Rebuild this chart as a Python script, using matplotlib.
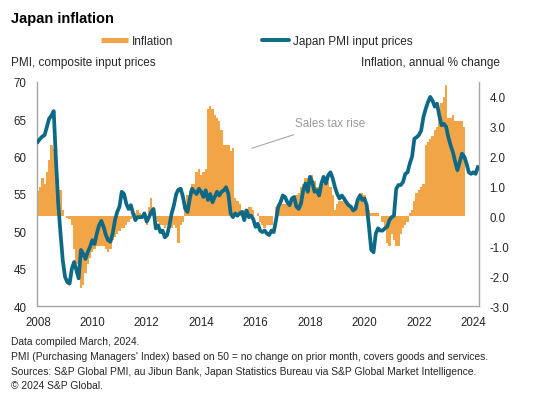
import matplotlib
matplotlib.use('Agg')
import matplotlib.pyplot as plt
import numpy as np
import pandas as pd
from matplotlib.lines import Line2D

plt.rcParams['font.family'] = ['Liberation Sans', 'DejaVu Sans']
plt.rcParams['axes.unicode_minus'] = False

orange = '#F2A546'
blue = '#0E6986'
spine_grey = '#A6A6A6'
text_col = '#262626'

# Japan PMI input prices (monthly, Jan 2008 - Mar 2024)
pmi = [
    62.0, 62.4, 62.7, 62.9, 64.0, 65.1, 65.5, 66.1, 59.5, 53.7, 49.7, 46.1,  # 2008
    43.9, 43.2, 43.0, 45.0, 45.9, 44.8, 43.7, 47.5, 47.0, 46.3, 47.2, 47.9,  # 2009
    48.8, 48.3, 49.7, 50.8, 51.4, 50.6, 49.5, 48.8, 48.6, 49.7, 51.5, 52.6,  # 2010
    53.3, 55.3, 55.0, 53.7, 53.0, 53.5, 52.4, 51.5, 51.9, 51.9, 51.9, 52.4,  # 2011
    51.3, 51.9, 52.6, 53.0, 50.4, 50.8, 49.9, 50.1, 49.2, 49.5, 50.8, 52.4,  # 2012
    53.5, 55.0, 55.6, 55.7, 54.6, 53.0, 52.6, 54.4, 55.7, 55.3, 55.0, 55.7,  # 2013
    55.3, 54.6, 55.5, 54.2, 55.0, 53.9, 54.6, 55.3, 54.8, 55.3, 55.5, 55.9,  # 2014
    55.0, 52.4, 51.9, 52.4, 52.1, 52.4, 52.6, 51.5, 52.8, 51.9, 52.1, 51.6,  # 2015
    50.6, 51.0, 50.1, 49.9, 50.1, 49.7, 49.5, 50.1, 49.9, 51.5, 53.3, 53.9,  # 2016
    54.8, 54.6, 53.9, 53.5, 54.4, 54.6, 53.3, 53.0, 53.7, 55.5, 56.4, 55.3,  # 2017
    57.3, 56.6, 55.3, 55.5, 54.8, 56.4, 57.3, 56.4, 57.5, 57.9, 57.1, 55.9,  # 2018
    55.0, 54.4, 54.8, 54.4, 53.9, 53.5, 53.3, 52.8, 53.0, 54.2, 54.8, 54.2,  # 2019
    54.4, 53.5, 50.6, 47.5, 47.2, 49.7, 50.4, 50.1, 50.1, 50.4, 50.6, 51.5,  # 2020
    51.9, 52.1, 55.7, 56.2, 56.2, 56.6, 57.7, 57.9, 59.1, 60.0, 62.4, 62.6,  # 2021
    62.9, 63.5, 65.3, 66.4, 67.3, 68.0, 67.5, 66.7, 67.1, 65.5, 64.2, 64.4,  # 2022
    64.0, 62.6, 61.5, 60.6, 59.3, 58.2, 59.3, 60.4, 60.0, 59.1, 57.9, 57.7,  # 2023
    57.9, 57.7, 58.6,  # 2024
]

# Inflation, annual % change (monthly, Jan 2008 onwards)
inflation = [
    0.85, 1.0, 1.3, 1.1, 1.5, 1.9, 2.4, 2.25, 1.85, 1.3, 0.9, 0.2,  # 2008
    0.0, -0.05, -0.1, -0.3, -1.1, -1.6, -2.0, -2.4, -2.3, -1.9, -1.6, -1.4,  # 2009
    -1.2, -1.1, -1.0, -1.0, -1.0, -1.0, -1.1, -1.2, -1.1, -0.8, -0.7, -0.6,  # 2010
    -0.5, -0.4, -0.4, -0.3, -0.2, -0.1, 0.0, 0.1, 0.2, 0.1, -0.1, 0.0,  # 2011
    -0.3, 0.3, 0.6, 0.2, -0.1, -0.2, -0.3, -0.3, -0.4, -0.3, -0.4, -0.4,  # 2012
    -0.3, -0.4, -0.9, -0.3, -0.2, 0.2, 0.7, 0.9, 1.1, 1.1, 1.5, 1.6,  # 2013
    1.4, 1.5, 1.6, 3.6, 3.7, 3.6, 3.4, 3.3, 3.2, 2.9, 2.4, 2.4,  # 2014
    2.4, 2.2, 2.3, 0.6, 0.5, 0.4, 0.2, 0.2, 0.0, 0.3, 0.3, 0.2,  # 2015
    0.0, 0.1, -0.2, -0.3, -0.4, -0.3, -0.3, -0.3, 0.0, 0.3, 0.4, 0.4,  # 2016
    0.4, 0.4, 0.4, 0.5, 0.5, 0.6, 0.7, 0.8, 1.0, 1.1, 1.3, 1.3,  # 2017
    1.2, 1.4, 1.2, 1.0, 1.0, 1.0, 1.1, 1.2, 1.2, 1.0, 0.7, 0.2,  # 2018
    0.4, 0.5, 0.5, 0.5, 0.5, 0.4, 0.3, 0.2, 0.2, 0.5, 0.8, 0.8,  # 2019
    0.7, 0.3, 0.2, 0.1, 0.1, 0.1, 0.1, 0.0, -0.2, -0.4, -0.9, -1.0,  # 2020
    -0.6, -0.8, -1.0, -1.0, -0.6, -0.4, -0.3, -0.2, 0.1, 0.2, 0.5, 0.8,  # 2021
    0.9, 1.0, 1.1, 2.4, 2.5, 2.6, 2.7, 2.9, 3.0, 3.6, 3.8, 4.0,  # 2022
    4.4, 3.3, 3.3, 3.4, 3.2, 3.2, 3.2, 3.2, 3.0, 0.02, 0.02, 0.02,  # 2023
    0.02,  # 2024
]

year_ticks = list(range(2008, 2025, 2))
pmi_ticks = [40, 45, 50, 55, 60, 65, 70]
infl_ticks = [-3.0, -2.0, -1.0, 0.0, 1.0, 2.0, 3.0, 4.0]

months = pd.date_range('2008-01-01', periods=len(pmi), freq='MS')
x_pmi = months.year + (months.month - 1) / 12
x_infl = x_pmi[:len(inflation)]

W, H = 534, 406
fig = plt.figure(figsize=(W / 100, H / 100), dpi=100)

ax = fig.add_axes([36.7 / W, 1 - 307 / H, (479 - 36.7) / W, (307 - 83) / H])
ax.bar(x_infl, inflation, width=1 / 12 * 1.02, color=orange, linewidth=0)
ax.set_ylim(-3, 4.5)
ax.set_xlim(2008 - 0.5 / 12, 2008 + (len(pmi) - 0.5) / 12)
ax.set_xticks(year_ticks)
ax.set_xticklabels([str(y) for y in year_ticks])
ax.tick_params(axis='x', length=0, pad=7, labelsize=8.3, colors=text_col)
ax.spines['top'].set_visible(False)
for s in ['left', 'right', 'bottom']:
    ax.spines[s].set_color(spine_grey)
    ax.spines[s].set_linewidth(1.0)

ax.annotate('Sales tax rise', xy=(2015.86, 2.28), xytext=(2017.45, 3.13),
            fontsize=8.4, color='#9A9A9A', va='center', ha='left',
            arrowprops=dict(arrowstyle='-', color='#A8A8A8', lw=0.8,
                            shrinkA=7, shrinkB=0))

ax2 = ax.twinx()
ax2.plot(x_pmi, pmi, color=blue, linewidth=2.7, solid_joinstyle='round')
ax2.set_ylim(40, 70)
ax2.set_yticks(pmi_ticks)
ax2.yaxis.tick_left()
ax2.tick_params(axis='y', length=0, pad=7.5, labelsize=8.3, colors=text_col)
for s in ax2.spines.values():
    s.set_visible(False)

# twinx moves the first axis' ticks to the left, so put them back on the right
ax.yaxis.tick_right()
ax.set_yticks(infl_ticks)
ax.set_yticklabels([f'{v:.1f}' for v in infl_ticks])
ax.tick_params(axis='y', length=0, pad=7.5, labelsize=8.3, colors=text_col)

fig.text(11 / W, 1 - 19 / H, 'Japan inflation', fontsize=10.5, fontweight='bold',
         va='center', ha='left', color='black')
fig.text(11 / W, 1 - 63 / H, 'PMI, composite input prices', fontsize=8.5,
         va='center', ha='left', color=text_col)
fig.text(500 / W, 1 - 63 / H, 'Inflation, annual % change', fontsize=8.5,
         va='center', ha='right', color=text_col)

handles = [Line2D([], [], color=orange, linewidth=3.6, solid_capstyle='butt'),
           Line2D([], [], color=blue, linewidth=2.8, solid_capstyle='round')]
fig.legend(handles, ['Inflation', 'Japan PMI input prices'], ncol=2,
           loc='center left', bbox_to_anchor=(101 / W, 1 - 42 / H),
           frameon=False, fontsize=8.5, handlelength=2.3, handletextpad=0.35,
           columnspacing=7.5, borderpad=0, borderaxespad=0, labelcolor=text_col)

footer = [
    'Data compiled March, 2024.',
    "PMI (Purchasing Managers' Index) based on 50 = no change on prior month, covers goods and services.",
    'Sources: S&P Global PMI, au Jibun Bank, Japan Statistics Bureau via S&P Global Market Intelligence.',
    '\u00a9 2024 S&P Global.',
]
for i, line in enumerate(footer):
    fig.text(11 / W, 1 - (342 + 14.8 * i) / H, line, fontsize=7.4,
             va='center', ha='left', color=text_col)

fig.savefig('out.png', dpi=100)
